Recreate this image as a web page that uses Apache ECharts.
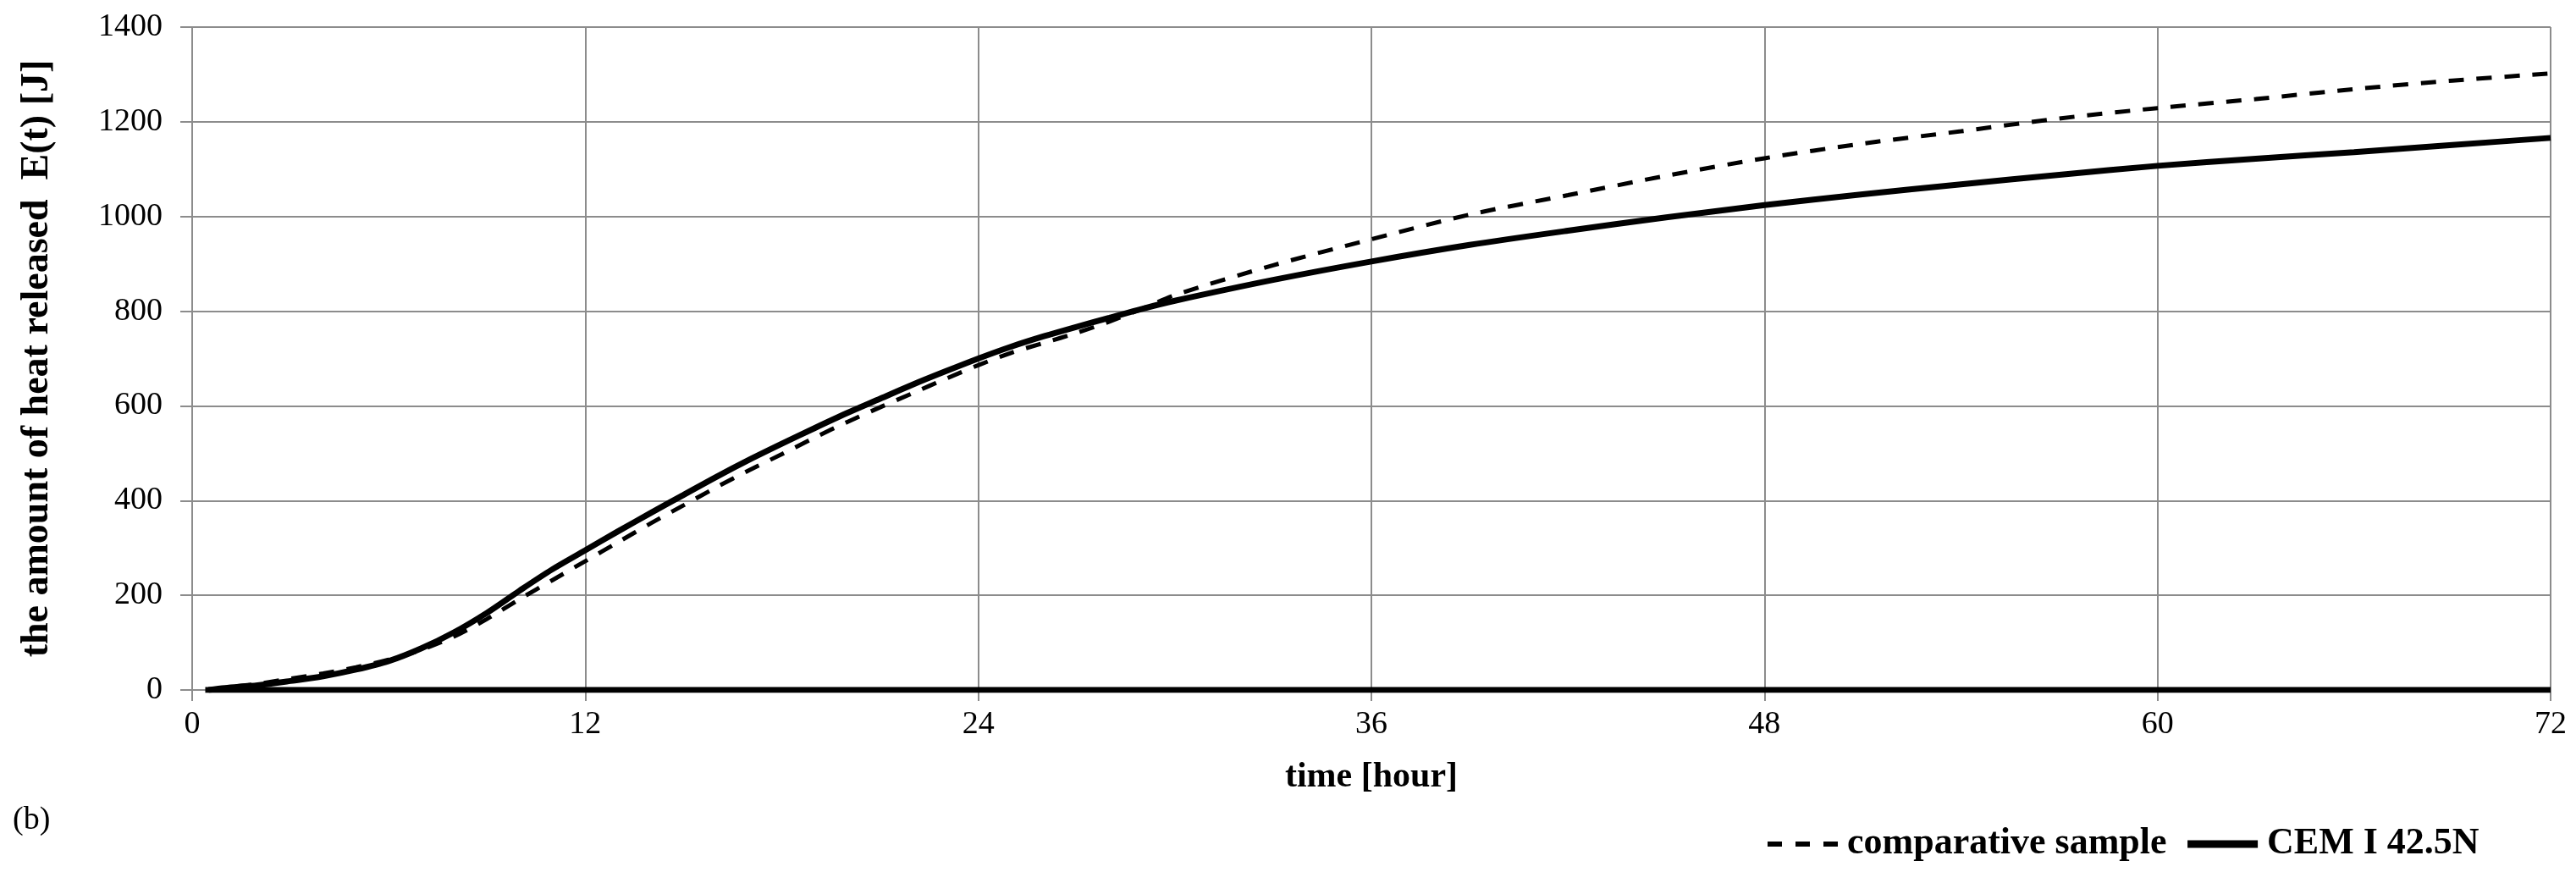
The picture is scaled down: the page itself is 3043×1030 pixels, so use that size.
<!DOCTYPE html>
<html>
<head>
<meta charset="utf-8">
<title>heat released</title>
<script src="https://cdn.jsdelivr.net/npm/echarts@6/dist/echarts.min.js"></script>
<style>
  html, body { margin: 0; padding: 0; background: #fff; }
  #chart { width: 3043px; height: 1030px; }
</style>
</head>
<body>
<div id="chart"></div>
<script>
// time axis [hour]
const hours = [0.5, 1, 2, 3, 4, 5, 6, 7, 8, 9, 10, 11, 12, 13, 14, 15, 16, 17, 18, 19, 20,
  21, 22, 23, 24, 25, 26, 27, 28, 29, 30, 33, 36, 39, 42, 45, 48, 51, 54, 57, 60, 63, 66, 69, 72];

// E(t) [J] - CEM I 42.5N (solid)
const cemValues = [0, 4, 10, 19, 29, 43, 61, 88, 122, 163, 210, 255, 295, 335, 374, 412, 450, 486, 520, 553, 585,
  615, 645, 673, 700, 725, 747, 767, 786, 805, 822, 866, 905, 940, 970, 998, 1024, 1047, 1068, 1088, 1107, 1122, 1136, 1151, 1166];

// E(t) [J] - comparative sample (dashed)
const compValues = [0, 5, 13, 24, 35, 48, 64, 85, 113, 150, 192, 232, 272, 312, 352, 390, 428, 464, 498, 533, 566,
  597, 627, 657, 686, 712, 733, 754, 778, 805, 834, 897, 952, 1004, 1045, 1086, 1123, 1154, 1180, 1207, 1229, 1248, 1269, 1287, 1302];

// zero line along the bottom
const baseHours = [0.4, 72];
const baseValues = [0, 0];

const xTicks = [0, 12, 24, 36, 48, 60, 72];
const yTicks = [0, 200, 400, 600, 800, 1000, 1200, 1400];

const pairs = (xs, ys) => xs.map((x, i) => [x, ys[i]]);

const font = "Liberation Serif";
const gridGray = "#8c8c8c";

const chart = echarts.init(document.getElementById("chart"));

const option = {
  animation: false,
  backgroundColor: "#fff",
  grid: {
    left: 227,
    top: 32,
    right: 30,
    bottom: 215,
  },
  legend: {
    left: 2080,
    top: 970,
    itemWidth: 83,
    itemHeight: 12,
    itemGap: 20,
    data: [
      { name: "comparative sample", lineStyle: { width: 6, type: [17, 16] } },
      { name: "CEM I 42.5N", lineStyle: { width: 9 } },
    ],
    itemStyle: { opacity: 0 },
    textStyle: {
      fontFamily: font,
      fontWeight: "bold",
      fontSize: 44,
      color: "#000",
      padding: [0, 0, 0, 6],
    },
  },
  graphic: [
    {
      type: "text",
      left: 15,
      top: 950,
      style: {
        text: "(b)",
        font: "38px 'Liberation Serif'",
        fill: "#000",
      },
    },
  ],
  xAxis: {
    type: "value",
    min: xTicks[0],
    max: xTicks[xTicks.length - 1],
    interval: 12,
    name: "time [hour]",
    nameLocation: "middle",
    nameGap: 82,
    nameTextStyle: {
      fontFamily: font,
      fontWeight: "bold",
      fontSize: 42,
      color: "#000",
    },
    axisLine: { show: true, onZero: false, lineStyle: { color: gridGray, width: 2 } },
    axisTick: { show: true, length: 13, lineStyle: { color: gridGray, width: 2 } },
    axisLabel: {
      fontFamily: font,
      fontSize: 38,
      color: "#000",
      margin: 22,
    },
    splitLine: { show: true, lineStyle: { color: gridGray, width: 2 } },
  },
  yAxis: {
    type: "value",
    min: yTicks[0],
    max: yTicks[yTicks.length - 1],
    interval: 200,
    name: "the amount of heat released  E(t) [J]",
    nameLocation: "middle",
    nameGap: 160,
    nameTextStyle: {
      fontFamily: font,
      fontWeight: "bold",
      fontSize: 46,
      color: "#000",
    },
    axisLine: { show: true, lineStyle: { color: gridGray, width: 2 } },
    axisTick: { show: true, length: 14, lineStyle: { color: gridGray, width: 2 } },
    axisLabel: {
      fontFamily: font,
      fontSize: 38,
      color: "#000",
      margin: 35,
      formatter: (v) => String(v),
    },
    splitLine: { show: true, lineStyle: { color: gridGray, width: 2 } },
  },
  series: [
    {
      name: "baseline",
      type: "line",
      data: pairs(baseHours, baseValues),
      showSymbol: false,
      symbol: "none",
      lineStyle: { color: "#000", width: 7 },
      silent: true,
      z: 4,
    },
    {
      name: "comparative sample",
      type: "line",
      data: pairs(hours, compValues),
      smooth: 0.3,
      symbol: "none",
      lineStyle: { color: "#000", width: 5, type: [18, 15] },
      itemStyle: { color: "#000" },
      z: 3,
    },
    {
      name: "CEM I 42.5N",
      type: "line",
      data: pairs(hours, cemValues),
      smooth: 0.3,
      symbol: "none",
      lineStyle: { color: "#000", width: 7 },
      itemStyle: { color: "#000" },
      z: 3,
    },
  ],
};

chart.setOption(option);
</script>
</body>
</html>
